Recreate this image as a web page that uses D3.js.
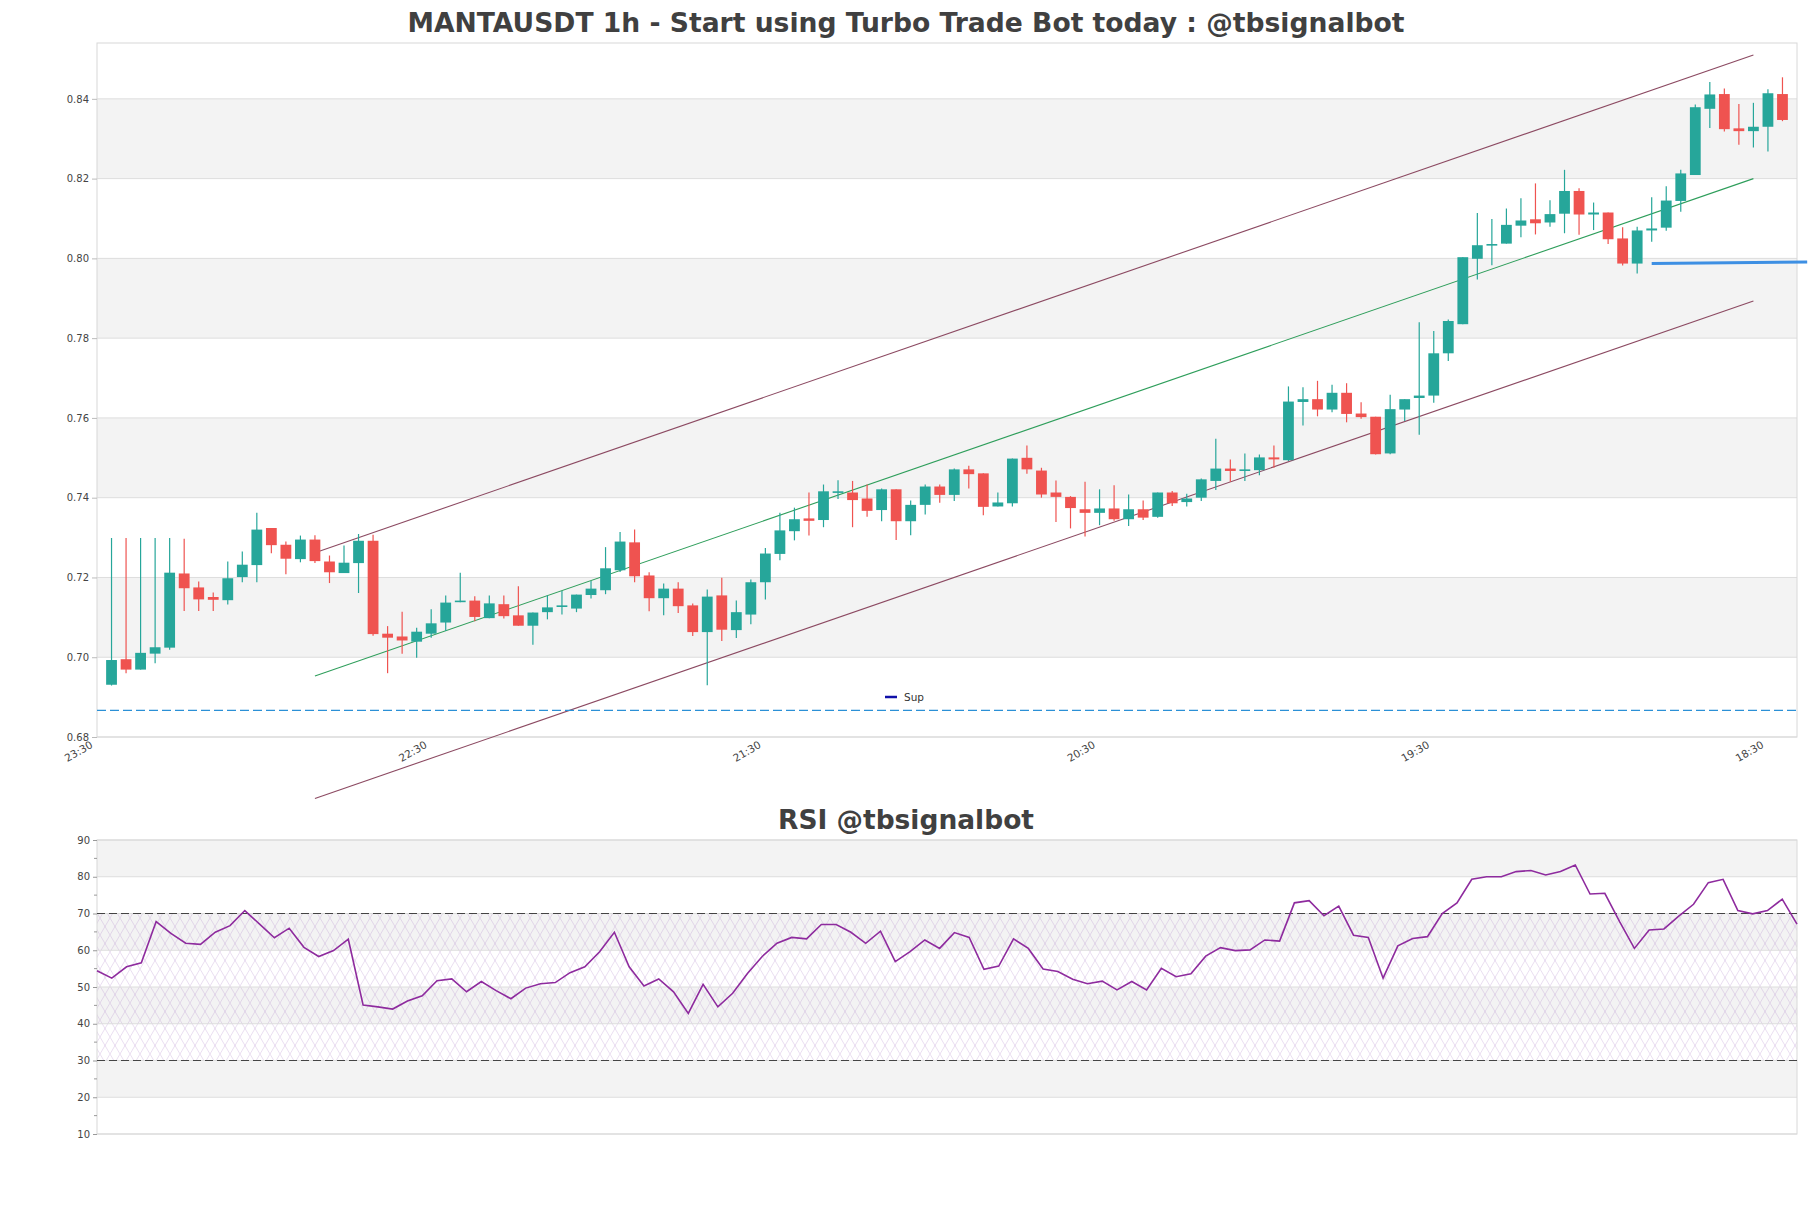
<!DOCTYPE html>
<html><head><meta charset="utf-8">
<script src="https://cdn.jsdelivr.net/npm/d3@7"></script>
<style>body{margin:0;background:#fff}svg{display:block}</style>
</head><body>
<svg id="c" width="1811" height="1208"></svg>
<script>
const openP = [0.6931,0.6995,0.6969,0.7009,0.7024,0.7210,0.7175,0.7151,0.7143,0.7201,0.7231,0.7324,0.7282,0.7246,0.7295,0.7240,0.7211,0.7236,0.7292,0.7059,0.7052,0.7039,0.7059,0.7087,0.7138,0.7142,0.7098,0.7133,0.7105,0.7079,0.7113,0.7128,0.7122,0.7156,0.7168,0.7218,0.7288,0.7205,0.7148,0.7172,0.7130,0.7063,0.7155,0.7068,0.7107,0.7188,0.7259,0.7316,0.7348,0.7344,0.7414,0.7413,0.7398,0.7369,0.7421,0.7341,0.7382,0.7428,0.7407,0.7471,0.7461,0.7378,0.7386,0.7500,0.7468,0.7413,0.7402,0.7371,0.7362,0.7373,0.7346,0.7371,0.7352,0.7413,0.7389,0.7400,0.7442,0.7473,0.7468,0.7469,0.7501,0.7494,0.7640,0.7647,0.7621,0.7663,0.7611,0.7603,0.7511,0.7621,0.7650,0.7656,0.7762,0.7835,0.7999,0.8033,0.8037,0.8082,0.8098,0.8090,0.8112,0.8169,0.8110,0.8115,0.8050,0.7987,0.8070,0.8077,0.8144,0.8209,0.8375,0.8412,0.8326,0.8319,0.8330,0.8412];
const highP = [0.7299,0.7299,0.7299,0.7299,0.7299,0.7297,0.7190,0.7162,0.7240,0.7265,0.7362,0.7324,0.7290,0.7305,0.7306,0.7255,0.7280,0.7309,0.7307,0.7078,0.7114,0.7074,0.7120,0.7155,0.7212,0.7153,0.7155,0.7155,0.7178,0.7112,0.7155,0.7166,0.7157,0.7191,0.7276,0.7314,0.7320,0.7213,0.7185,0.7188,0.7135,0.7170,0.7199,0.7142,0.7195,0.7274,0.7362,0.7375,0.7413,0.7433,0.7444,0.7442,0.7433,0.7423,0.7421,0.7393,0.7433,0.7433,0.7473,0.7480,0.7461,0.7413,0.7498,0.7531,0.7475,0.7443,0.7404,0.7440,0.7421,0.7431,0.7408,0.7393,0.7413,0.7417,0.7410,0.7448,0.7548,0.7496,0.7511,0.7508,0.7531,0.7679,0.7677,0.7693,0.7683,0.7687,0.7639,0.7603,0.7658,0.7647,0.7840,0.7818,0.7847,0.8003,0.8114,0.8099,0.8125,0.8151,0.8188,0.8146,0.8222,0.8176,0.8140,0.8115,0.8078,0.8079,0.8153,0.8181,0.8222,0.8386,0.8442,0.8426,0.8387,0.8390,0.8424,0.8454];
const lowP = [0.6929,0.6960,0.6969,0.6985,0.7019,0.7116,0.7116,0.7116,0.7132,0.7188,0.7188,0.7261,0.7208,0.7238,0.7236,0.7186,0.7211,0.7161,0.7054,0.6960,0.7009,0.6999,0.7049,0.7066,0.7138,0.7090,0.7098,0.7097,0.7079,0.7031,0.7095,0.7107,0.7113,0.7147,0.7158,0.7214,0.7188,0.7115,0.7105,0.7111,0.7053,0.6930,0.7041,0.7048,0.7083,0.7145,0.7243,0.7293,0.7305,0.7326,0.7397,0.7326,0.7352,0.7341,0.7294,0.7306,0.7358,0.7387,0.7392,0.7423,0.7356,0.7378,0.7378,0.7460,0.7400,0.7339,0.7323,0.7303,0.7331,0.7342,0.7329,0.7344,0.7350,0.7379,0.7378,0.7392,0.7419,0.7440,0.7442,0.7456,0.7475,0.7492,0.7581,0.7604,0.7614,0.7589,0.7598,0.7508,0.7509,0.7592,0.7558,0.7638,0.7743,0.7835,0.7947,0.7983,0.8037,0.8053,0.8060,0.8079,0.8063,0.8059,0.8071,0.8036,0.7982,0.7962,0.8042,0.8069,0.8117,0.8209,0.8327,0.8318,0.8285,0.8278,0.8268,0.8344];
const closeP = [0.6993,0.6969,0.7011,0.7025,0.7212,0.7173,0.7145,0.7144,0.7198,0.7232,0.7320,0.7281,0.7247,0.7295,0.7241,0.7213,0.7237,0.7292,0.7058,0.7049,0.7042,0.7064,0.7085,0.7137,0.7142,0.7101,0.7135,0.7103,0.7079,0.7112,0.7125,0.7130,0.7157,0.7172,0.7223,0.7290,0.7203,0.7148,0.7172,0.7128,0.7063,0.7152,0.7069,0.7113,0.7188,0.7260,0.7318,0.7346,0.7342,0.7416,0.7416,0.7394,0.7367,0.7421,0.7341,0.7382,0.7428,0.7407,0.7471,0.7459,0.7377,0.7388,0.7498,0.7471,0.7408,0.7402,0.7374,0.7362,0.7373,0.7346,0.7371,0.7350,0.7413,0.7386,0.7398,0.7446,0.7473,0.7467,0.7471,0.7501,0.7496,0.7641,0.7647,0.7621,0.7663,0.7610,0.7602,0.7509,0.7622,0.7647,0.7656,0.7762,0.7843,0.8003,0.8033,0.8036,0.8084,0.8095,0.8088,0.8111,0.8169,0.8110,0.8115,0.8048,0.7987,0.8070,0.8075,0.8145,0.8213,0.8379,0.8411,0.8324,0.8319,0.8330,0.8414,0.8347];
const rsiValues = [54.4,52.4,55.5,56.6,67.8,64.6,61.9,61.6,64.9,66.7,70.8,67.1,63.4,66.0,60.8,58.3,59.9,63.0,45.1,44.6,44.0,46.2,47.6,51.7,52.2,48.7,51.5,49.0,46.8,49.7,50.9,51.2,53.9,55.5,59.6,64.9,55.5,50.3,52.2,48.7,42.8,50.7,44.6,48.3,53.7,58.3,61.9,63.5,63.1,67.0,67.0,64.9,61.9,65.2,56.9,59.6,62.8,60.5,64.8,63.5,54.8,55.7,63.1,60.5,54.9,54.2,52.1,50.9,51.6,49.2,51.5,49.2,55.1,52.8,53.6,58.4,60.7,59.9,60.1,62.8,62.5,72.9,73.5,69.4,72.0,64.1,63.5,52.4,61.2,63.2,63.7,70.0,72.9,79.3,80.0,80.0,81.4,81.7,80.5,81.4,83.2,75.3,75.5,67.8,60.5,65.5,65.8,69.3,72.5,78.4,79.3,70.8,69.9,70.8,73.9,67.1];
const tickIndex = [0,23,46,69,92,115];
const tickLabels = ["23:30","22:30","21:30","20:30","19:30","18:30"];
const priceTicks = [0.68,0.70,0.72,0.74,0.76,0.78,0.80,0.82,0.84];
const rsiTicks = [10,20,30,40,50,60,70,80,90];
const channelIdx = [14,113];
const channelMid = [0.6953,0.8200];
const channelUpper = [0.7262,0.8510];
const channelLower = [0.6646,0.7893];
const supportLevel = 0.6867;
const levelIdx = [106,116.7];
const levelVals = [0.7987,0.7991];
const titleMain = "MANTAUSDT 1h - Start using Turbo Trade Bot today : @tbsignalbot";
const titleRsi = "RSI @tbsignalbot";
const legendLabel = "Sup";

const svg = d3.select("#c");
svg.append("rect").attr("width",1811).attr("height",1208).attr("fill","#fff");
const FONT = "'DejaVu Sans', sans-serif";
const L = 97, R = 1797;
const x = d3.scaleLinear().domain([-1, openP.length]).range([L, R]);
const y = d3.scaleLinear().domain([0.68, 0.854]).range([737, 43]);
const xr = d3.scaleLinear().domain([0, rsiValues.length-1]).range([L, R]);
const yr = d3.scaleLinear().domain([10, 90]).range([1134, 840]);

// defs: hatch
const defs = svg.append("defs");
const pat = defs.append("pattern").attr("id","hatch").attr("patternUnits","userSpaceOnUse")
  .attr("width",10).attr("height",17);
pat.append("path").attr("d","M0,0 L10,17 M10,0 L0,17 M-5,8.5 L0,17 M5,-8.5 L10,0")
  .attr("stroke","rgba(170,120,200,0.42)").attr("stroke-width",0.6).attr("fill","none");

// ---- main panel ----
const main = svg.append("g");
for (let i=0;i<priceTicks.length-1;i++){
  if (i%2===1) main.append("rect").attr("x",L).attr("width",R-L)
    .attr("y",y(priceTicks[i+1])).attr("height",y(priceTicks[i])-y(priceTicks[i+1])).attr("fill","#f3f3f3");
}
main.selectAll(".grid").data(priceTicks).join("line")
  .attr("x1",L).attr("x2",R).attr("y1",d=>y(d)).attr("y2",d=>y(d))
  .attr("stroke","#dddddd").attr("stroke-width",1);
main.append("rect").attr("x",L).attr("y",43).attr("width",R-L).attr("height",737-43)
  .attr("fill","none").attr("stroke","#d8d8d8");

const yAxis = d3.axisLeft(y).tickValues(priceTicks).tickFormat(d3.format(".2f")).tickSize(5).tickPadding(3);
const ya = main.append("g").attr("transform",`translate(${L},0)`).call(yAxis);
ya.select(".domain").remove();
ya.selectAll("line").attr("stroke","#bbb");
ya.selectAll("text").attr("font-family",FONT).attr("font-size",10).attr("fill","#444");

// channel lines
const chan = [[channelUpper,"#8c4a62"],[channelMid,"#2e9e5b"],[channelLower,"#8c4a62"]];
chan.forEach(([v,c])=>{
  main.append("line").attr("x1",x(channelIdx[0])).attr("x2",x(channelIdx[1]))
    .attr("y1",y(v[0])).attr("y2",y(v[1])).attr("stroke",c).attr("stroke-width",1.1);
});
// support dashed
main.append("line").attr("x1",L).attr("x2",R).attr("y1",y(supportLevel)).attr("y2",y(supportLevel))
  .attr("stroke","#2b90d6").attr("stroke-width",1.3).attr("stroke-dasharray","9,4");

// candles
const idx = d3.range(openP.length);
const up = i => closeP[i] >= openP[i];
const col = i => up(i) ? "#26a69a" : "#ef5350";
main.selectAll(".wick").data(idx).join("line")
  .attr("x1",i=>x(i)).attr("x2",i=>x(i)).attr("y1",i=>y(highP[i])).attr("y2",i=>y(lowP[i]))
  .attr("stroke",col).attr("stroke-width",1.2);
const bw = 10.8;
main.selectAll(".body").data(idx).join("rect")
  .attr("x",i=>x(i)-bw/2).attr("width",bw)
  .attr("y",i=>y(Math.max(openP[i],closeP[i])))
  .attr("height",i=>Math.max(1.6, Math.abs(y(openP[i])-y(closeP[i]))))
  .attr("fill",col);

// blue level
main.append("line").attr("x1",x(levelIdx[0])).attr("x2",x(levelIdx[1]))
  .attr("y1",y(levelVals[0])).attr("y2",y(levelVals[1]))
  .attr("stroke","#3d8fe3").attr("stroke-width",3);

// x labels
main.selectAll(".xl").data(tickIndex).join("text")
  .attr("transform",(d)=>`translate(${x(d)-18},747) rotate(-30)`)
  .attr("text-anchor","end").attr("font-family",FONT).attr("font-size",10.5).attr("fill","#444")
  .text((d,i)=>tickLabels[i]);

// legend
main.append("line").attr("x1",885).attr("x2",897).attr("y1",697).attr("y2",697)
  .attr("stroke","#1010a8").attr("stroke-width",2.5);
main.append("text").attr("x",904).attr("y",701).attr("font-family",FONT).attr("font-size",10.5)
  .attr("fill","#333").text(legendLabel);

// title
svg.append("text").attr("x",906).attr("y",32).attr("text-anchor","middle")
  .attr("font-family",FONT).attr("font-weight","bold").attr("font-size",27).attr("fill","#404040")
  .attr("textLength",997).attr("lengthAdjust","spacingAndGlyphs").text(titleMain);

// ---- RSI panel ----
const rp = svg.append("g");
for (let i=0;i<rsiTicks.length-1;i++){
  if (i%2===1) rp.append("rect").attr("x",L).attr("width",R-L)
    .attr("y",yr(rsiTicks[i+1])).attr("height",yr(rsiTicks[i])-yr(rsiTicks[i+1])).attr("fill","#f3f3f3");
}
rp.append("rect").attr("x",L).attr("width",R-L).attr("y",yr(70)).attr("height",yr(30)-yr(70))
  .attr("fill","url(#hatch)");
rp.selectAll(".g").data(rsiTicks).join("line")
  .attr("x1",L).attr("x2",R).attr("y1",d=>yr(d)).attr("y2",d=>yr(d))
  .attr("stroke","#dddddd");
rp.append("rect").attr("x",L).attr("y",840).attr("width",R-L).attr("height",1134-840)
  .attr("fill","none").attr("stroke","#d8d8d8");
const ra = rp.append("g").attr("transform",`translate(${L},0)`)
  .call(d3.axisLeft(yr).tickValues(rsiTicks).tickSize(4).tickPadding(3));
ra.select(".domain").remove();
ra.selectAll("line").attr("stroke","#999");
ra.selectAll("text").attr("font-family",FONT).attr("font-size",10).attr("fill","#444");
const minor = d3.range(15,90,10);
rp.selectAll(".mt").data(minor).join("line").attr("x1",L-3).attr("x2",L)
  .attr("y1",d=>yr(d)).attr("y2",d=>yr(d)).attr("stroke","#999");
[70,30].forEach(v=>{
  rp.append("line").attr("x1",L).attr("x2",R).attr("y1",yr(v)).attr("y2",yr(v))
    .attr("stroke","#444").attr("stroke-width",1.2).attr("stroke-dasharray","8,4");
});
rp.append("path").datum(rsiValues)
  .attr("d",d3.line().x((d,i)=>xr(i)).y(d=>yr(d)))
  .attr("fill","none").attr("stroke","#8e2b9e").attr("stroke-width",1.6);
svg.append("text").attr("x",906).attr("y",829).attr("text-anchor","middle")
  .attr("font-family",FONT).attr("font-weight","bold").attr("font-size",27).attr("fill","#404040")
  .attr("textLength",256).attr("lengthAdjust","spacingAndGlyphs").text(titleRsi);
</script>
</body></html>
